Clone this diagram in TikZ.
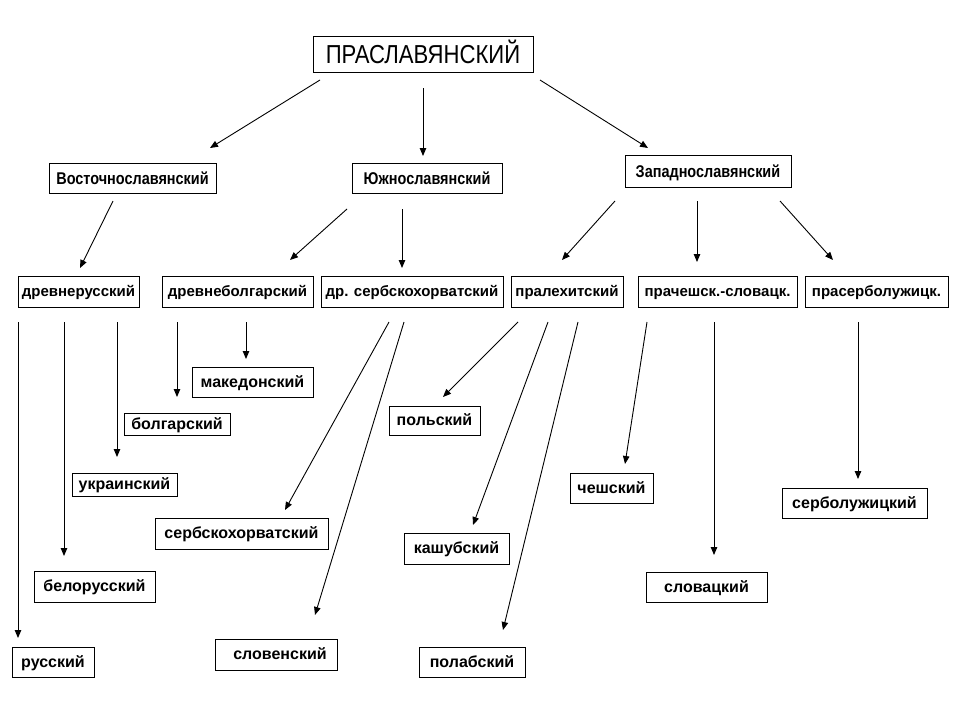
\documentclass[tikz,border=0pt]{standalone}
\usepackage{fontspec}
\setmainfont{Liberation Sans}
\newfontfamily\narrowfont[FakeStretch=0.85]{Liberation Sans}
\usetikzlibrary{arrows.meta}
\begin{document}
\begin{tikzpicture}[x=1pt,y=-1pt,
  box/.style={draw, line width=0.9pt, inner sep=0pt},
  lang/.style={box, font=\fontsize{16}{18}\selectfont\bfseries, text height=10.6pt, text depth=0.3pt},
  mid/.style={box, font=\fontsize{15}{18}\selectfont\bfseries, text height=10pt, text depth=0.3pt},
  grp/.style={box, font=\narrowfont\fontsize{17}{19}\selectfont\bfseries, text height=12.2pt, text depth=0pt},
  top/.style={box, font=\narrowfont\fontsize{26}{30}\selectfont, text height=18.6pt, text depth=0pt},
  arr/.style={line width=0.9pt, -{Triangle[length=8pt,width=6.5pt]}}]
\useasboundingbox[fill=white] (0,0) rectangle (960,720);
% level 0
\node[top, minimum width=220, minimum height=36] (pra) at (423,54) {ПРАСЛАВЯНСКИЙ};
% level 1
\node[grp, minimum width=167, minimum height=30] (vost) at (132.5,178) {Восточнославянский};
\node[grp, minimum width=150, minimum height=30] (yuzh) at (427,178) {Южнославянский};
\node[grp, minimum width=166, minimum height=32] (zap) at (708,171) {Западнославянский};
% level 2
\node[mid, minimum width=121, minimum height=31] (drus) at (78.5,291.5) {древнерусский};
\node[mid, minimum width=151, minimum height=31] (dbolg) at (237.5,291.5) {древнеболгарский};
\node[mid, minimum width=182, minimum height=31] (dserb) at (412,291.5) {др. сербскохорватский};
\node[mid, minimum width=112, minimum height=31] (pralex) at (567,291.5) {пралехитский};
\node[mid, minimum width=159, minimum height=31] (prach) at (717.5,291.5) {прачешск.-словацк.};
\node[mid, minimum width=143, minimum height=31] (praserb) at (876.5,291.5) {прасерболужицк.};
% level 3
\node[lang, minimum width=121, minimum height=30] (maked) at (252.5,382) {македонский};
\node[lang, minimum width=106, minimum height=22] (bolg) at (177,424) {болгарский};
\node[lang, minimum width=105, minimum height=23] (ukr) at (124.5,484.5) {украинский};
\node[lang, minimum width=121, minimum height=31] (belo) at (94.5,586.5) {белорусский};
\node[lang, minimum width=82, minimum height=30] (rus) at (53,662) {русский};
\node[lang, minimum width=173, minimum height=31] (serbhorv) at (241.5,533.5) {сербскохорватский};
\node[lang, minimum width=122, minimum height=31] (sloven) at (276,654.5) {\hspace*{8pt}словенский};
\node[lang, minimum width=91, minimum height=29] (polsk) at (434.5,420.5) {польский};
\node[lang, minimum width=105, minimum height=31] (kash) at (456.5,548.5) {кашубский};
\node[lang, minimum width=106, minimum height=30] (polab) at (472,662) {полабский};
\node[lang, minimum width=83, minimum height=30] (czech) at (611.5,488) {чешский};
\node[lang, minimum width=121, minimum height=30] (slovak) at (706.5,587) {словацкий};
\node[lang, minimum width=145, minimum height=30] (serbluz) at (854.5,503) {серболужицкий};
% connector end points
\coordinate (a1s) at (320,80);  \coordinate (a1e) at (210,148);
\coordinate (a2s) at (423,88);  \coordinate (a2e) at (423,156);
\coordinate (a3s) at (540,80);  \coordinate (a3e) at (648,148);
\coordinate (b1s) at (113,201); \coordinate (b1e) at (80,268);
\coordinate (b2s) at (347,209); \coordinate (b2e) at (290,260);
\coordinate (b3s) at (402,209); \coordinate (b3e) at (402,268);
\coordinate (b4s) at (615,201); \coordinate (b4e) at (562,260);
\coordinate (b5s) at (697,201); \coordinate (b5e) at (697,262);
\coordinate (b6s) at (780,201); \coordinate (b6e) at (833,260);
\coordinate (c1s) at (18,322);  \coordinate (c1e) at (18,638);
\coordinate (c2s) at (64,322);  \coordinate (c2e) at (64,556);
\coordinate (c3s) at (117,322); \coordinate (c3e) at (117,457);
\coordinate (c4s) at (177,322); \coordinate (c4e) at (177,397);
\coordinate (c5s) at (246,322); \coordinate (c5e) at (246,359);
\coordinate (c6s) at (389,322); \coordinate (c6e) at (285,510);
\coordinate (c7s) at (404,322); \coordinate (c7e) at (315,615);
\coordinate (c8s) at (518,322); \coordinate (c8e) at (443,397);
\coordinate (c9s) at (548,322); \coordinate (c9e) at (473,525);
\coordinate (c10s) at (578,322); \coordinate (c10e) at (503,630);
\coordinate (c11s) at (647,322); \coordinate (c11e) at (625,464);
\coordinate (c12s) at (714,322); \coordinate (c12e) at (714,555);
\coordinate (c13s) at (858,322); \coordinate (c13e) at (858,479);
% connectors
\foreach \s/\e in {a1s/a1e,a2s/a2e,a3s/a3e,b1s/b1e,b2s/b2e,b3s/b3e,b4s/b4e,b5s/b5e,b6s/b6e,
  c1s/c1e,c2s/c2e,c3s/c3e,c4s/c4e,c5s/c5e,c6s/c6e,c7s/c7e,c8s/c8e,c9s/c9e,c10s/c10e,c11s/c11e,c12s/c12e,c13s/c13e}
  \draw[arr] (\s) -- (\e);
\end{tikzpicture}
\end{document}
